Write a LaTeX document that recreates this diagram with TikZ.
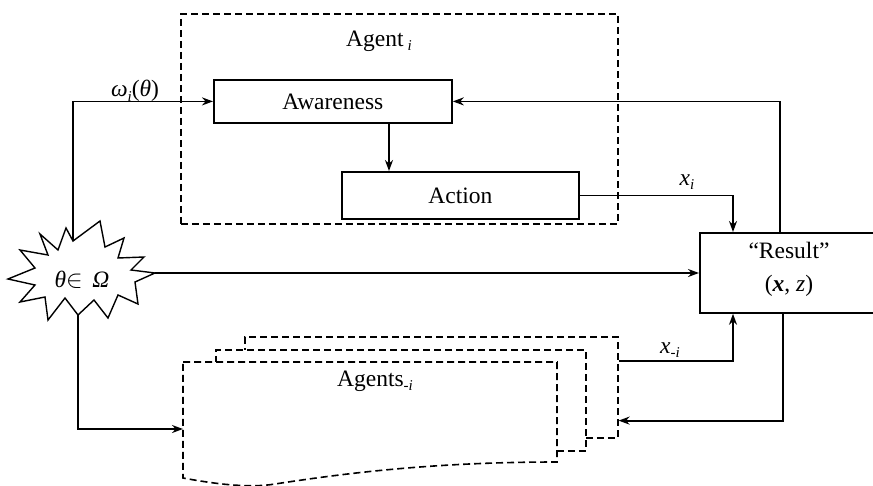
\documentclass[tikz,border=0pt]{standalone}
\usepackage{fontspec}
\setmainfont{Liberation Serif}
\usetikzlibrary{arrows.meta}
% small italic subscript in text font
\newcommand{\lowsub}[1]{\raisebox{-0.4ex}{\fontsize{15}{15}\selectfont\itshape #1}}

\begin{document}
\begin{tikzpicture}[x=1pt,y=-1pt,
  font=\fontsize{23.5}{28}\selectfont,
  solidbox/.style={draw, line width=1.8pt, inner sep=0pt, anchor=north west},
  dashbox/.style={draw, line width=1.6pt, dash pattern=on 7pt off 4pt, fill=white},
  conn/.style={line width=1.8pt, -{Stealth[length=11pt,width=8pt]}},
  lbl/.style={inner sep=0pt}]
\useasboundingbox (0,0) rectangle (873,485);

% Agent i frame
\node[dashbox, fill=none, anchor=north west, minimum width=437pt, minimum height=210pt] (agi) at (180,13) {};
\node[lbl] (agilbl) at (379,41) {Agent\,\lowsub{i}};

% inner boxes
\node[solidbox, minimum width=238pt, minimum height=43pt] (aw) at (213,79) {};
\node[lbl] at (aw.center) {Awareness};
\node[solidbox, minimum width=237pt, minimum height=47pt] (act) at (341,171) {};
\node[lbl] at (act.center) {Action};

% result box
\node[solidbox, minimum width=175pt, minimum height=80pt] (res) at (699,232) {};
\node[lbl, align=center, font=\fontsize{23.5}{33}\selectfont] (reslbl) at (789,269)
  {``Result''\\(\textbf{\textit{x}}, \textit{z})};

% stacked agents
\node[dashbox, anchor=north west, minimum width=373pt, minimum height=101pt] (agb) at (244,336) {};
\node[dashbox, anchor=north west, minimum width=370pt, minimum height=101pt] (agm) at (215,349) {};
\draw[line width=1.6pt, dash pattern=on 7pt off 4pt, fill=white]
  (183,362) coordinate (fTL) -- (557,362) -- (557,462)
  .. controls (430,462) and (340,474) .. (275,484)
  .. controls (245,489) and (205,482) .. (183,478) -- cycle;
\node[lbl] (aglbl) at (375,381) {Agents\lowsub{-i}};
\coordinate (fL) at (183,429);

% state of the world
\draw[line width=1.4pt, line join=miter]
  (73,241) coordinate (sT) -- (100,221) -- (105,247) -- (124,238) -- (118,258)
  -- (144,257) -- (131,270) -- (155,273) coordinate (sR) -- (135,282) -- (138,304)
  -- (118,295) -- (108,318) -- (94,300) -- (78,315) coordinate (sB) -- (65,298)
  -- (48,320) -- (45,297) -- (20,302) -- (35,285) -- (8,279) -- (35,268)
  -- (20,250) -- (48,255) -- (40,234) -- (58,250) -- (66,228) -- cycle;
\node[lbl] (theta) at (82,280) {\textit{θ}$\in$\, \textit{Ω}};

% connectors
\draw[conn] (sT) |- (aw.west);
\node[lbl] (omega) at (135,91) {\textit{ω}\lowsub{i}(\textit{θ})};
\draw[conn] ([xshift=176pt]aw.south west) -- ([xshift=176pt]aw.south west |- act.north);
\draw[conn] ([xshift=81pt]res.north west) |- (aw.east);
\draw[conn] (act.east) -| ([xshift=34pt]res.north west);
\node[lbl] (xi) at (687,182) {\textit{x}\lowsub{i}};
\draw[conn] (sR) -- (sR -| res.west);
\draw[conn] (sB) |- (fL);
\draw[conn] ([yshift=-25pt]agb.north east) -| ([xshift=34pt]res.south west);
\node[lbl] (xmi) at (670,350) {\textit{x}\lowsub{-i}};
\draw[conn] ([xshift=84pt]res.south west) |- ([yshift=18pt]agb.south east);
\end{tikzpicture}
\end{document}
